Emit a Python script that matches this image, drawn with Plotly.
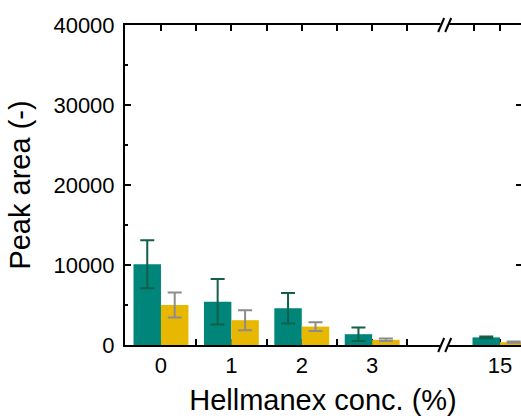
import plotly.graph_objects as go

# ---- data ----
categories = [0, 1, 2, 3, 15]
tick_labels = ["0", "1", "2", "3", "15"]
series_a_name = "A"
series_a = [10100, 5400, 4600, 1350, 950]
series_a_err = [3000, 2850, 1900, 850, 100]
series_b_name = "B"
series_b = [5000, 3100, 2300, 650, 350]
series_b_err = [1550, 1250, 550, 150, 80]

# axis positions with a broken x axis (gap between 3 and 15)
BREAK_AFTER = 3
GAP = 1.815
positions = [c if c <= BREAK_AFTER else BREAK_AFTER + GAP for c in categories]
minor_positions = [0.5, 1.5, 2.5, 3.5, BREAK_AFTER + GAP - 0.37]
break_pos = 4.03

TEAL = "#00857a"
YELLOW = "#e8b800"
FONT = "Liberation Sans, Arial, sans-serif"

fig = go.Figure()
fig.add_trace(go.Bar(
    x=positions, y=series_a, name=series_a_name, marker_color=TEAL,
    marker_line_width=0,
    error_y=dict(type="data", array=series_a_err, color="#11604a", thickness=2, width=7),
))
fig.add_trace(go.Bar(
    x=positions, y=series_b, name=series_b_name, marker_color=YELLOW,
    marker_line_width=0,
    error_y=dict(type="data", array=series_b_err, color="#8c8c8c", thickness=2, width=7),
))
# dummy trace to activate the right-side tick axis
fig.add_trace(go.Scatter(x=[None], y=[None], yaxis="y2", showlegend=False, hoverinfo="skip"))

fig.update_layout(
    width=521, height=419,
    margin=dict(l=125, r=0, t=25, b=74),
    paper_bgcolor="white", plot_bgcolor="white",
    barmode="group", bargap=0.22, bargroupgap=0,
    showlegend=False,
    font=dict(family=FONT, color="black"),
    xaxis=dict(
        range=[-0.511, 5.114], showgrid=False, zeroline=False,
        tickmode="array", tickvals=positions, ticktext=tick_labels,
        ticks="inside", ticklen=6, tickwidth=2, tickcolor="black",
        showline=True, linewidth=2, linecolor="black", mirror="allticks",
        minor=dict(tickmode="array", tickvals=minor_positions, ticks="inside",
                   ticklen=3, tickwidth=2, tickcolor="black"),
        tickfont=dict(size=22, family=FONT), ticklabelstandoff=0,
        title=dict(text="Hellmanex conc. (%)", font=dict(size=29, family=FONT), standoff=12),
        layer="below traces", automargin=False,
    ),
    yaxis=dict(
        range=[0, 40000], showgrid=False, zeroline=False,
        tickmode="linear", tick0=0, dtick=10000, tickformat="d",
        ticks="inside", ticklen=6, tickwidth=2, tickcolor="black",
        showline=True, linewidth=2, linecolor="black",
        minor=dict(dtick=5000, ticks="inside", ticklen=3, tickwidth=2, tickcolor="black"),
        tickfont=dict(size=22, family=FONT), ticklabelstandoff=4,
        title=dict(text="Peak area (-)", font=dict(size=29, family=FONT), standoff=14),
        automargin=False,
    ),
    yaxis2=dict(
        overlaying="y", side="right", range=[0, 40000], showgrid=False, zeroline=False,
        tickmode="array", tickvals=[10000, 20000, 30000], showticklabels=False,
        ticks="inside", ticklen=5, tickwidth=2, tickcolor="black", showline=False,
    ),
)

# axis break markers "//" on top and bottom axis lines
for yanchor in (0, 1):
    fig.add_shape(type="rect", xref="x", yref="paper", layer="above",
                  x0=break_pos - 0.06, x1=break_pos + 0.06,
                  ysizemode="pixel", yanchor=yanchor, y0=-2, y1=2,
                  fillcolor="white", line_width=0)
    for dx in (-0.05, 0.05):
        fig.add_shape(type="line", xref="x", yref="paper", layer="above",
                      xsizemode="pixel", xanchor=break_pos + dx, x0=-3, x1=3,
                      ysizemode="pixel", yanchor=yanchor, y0=-7, y1=7,
                      line=dict(color="black", width=2))

fig.write_html("out.html")
